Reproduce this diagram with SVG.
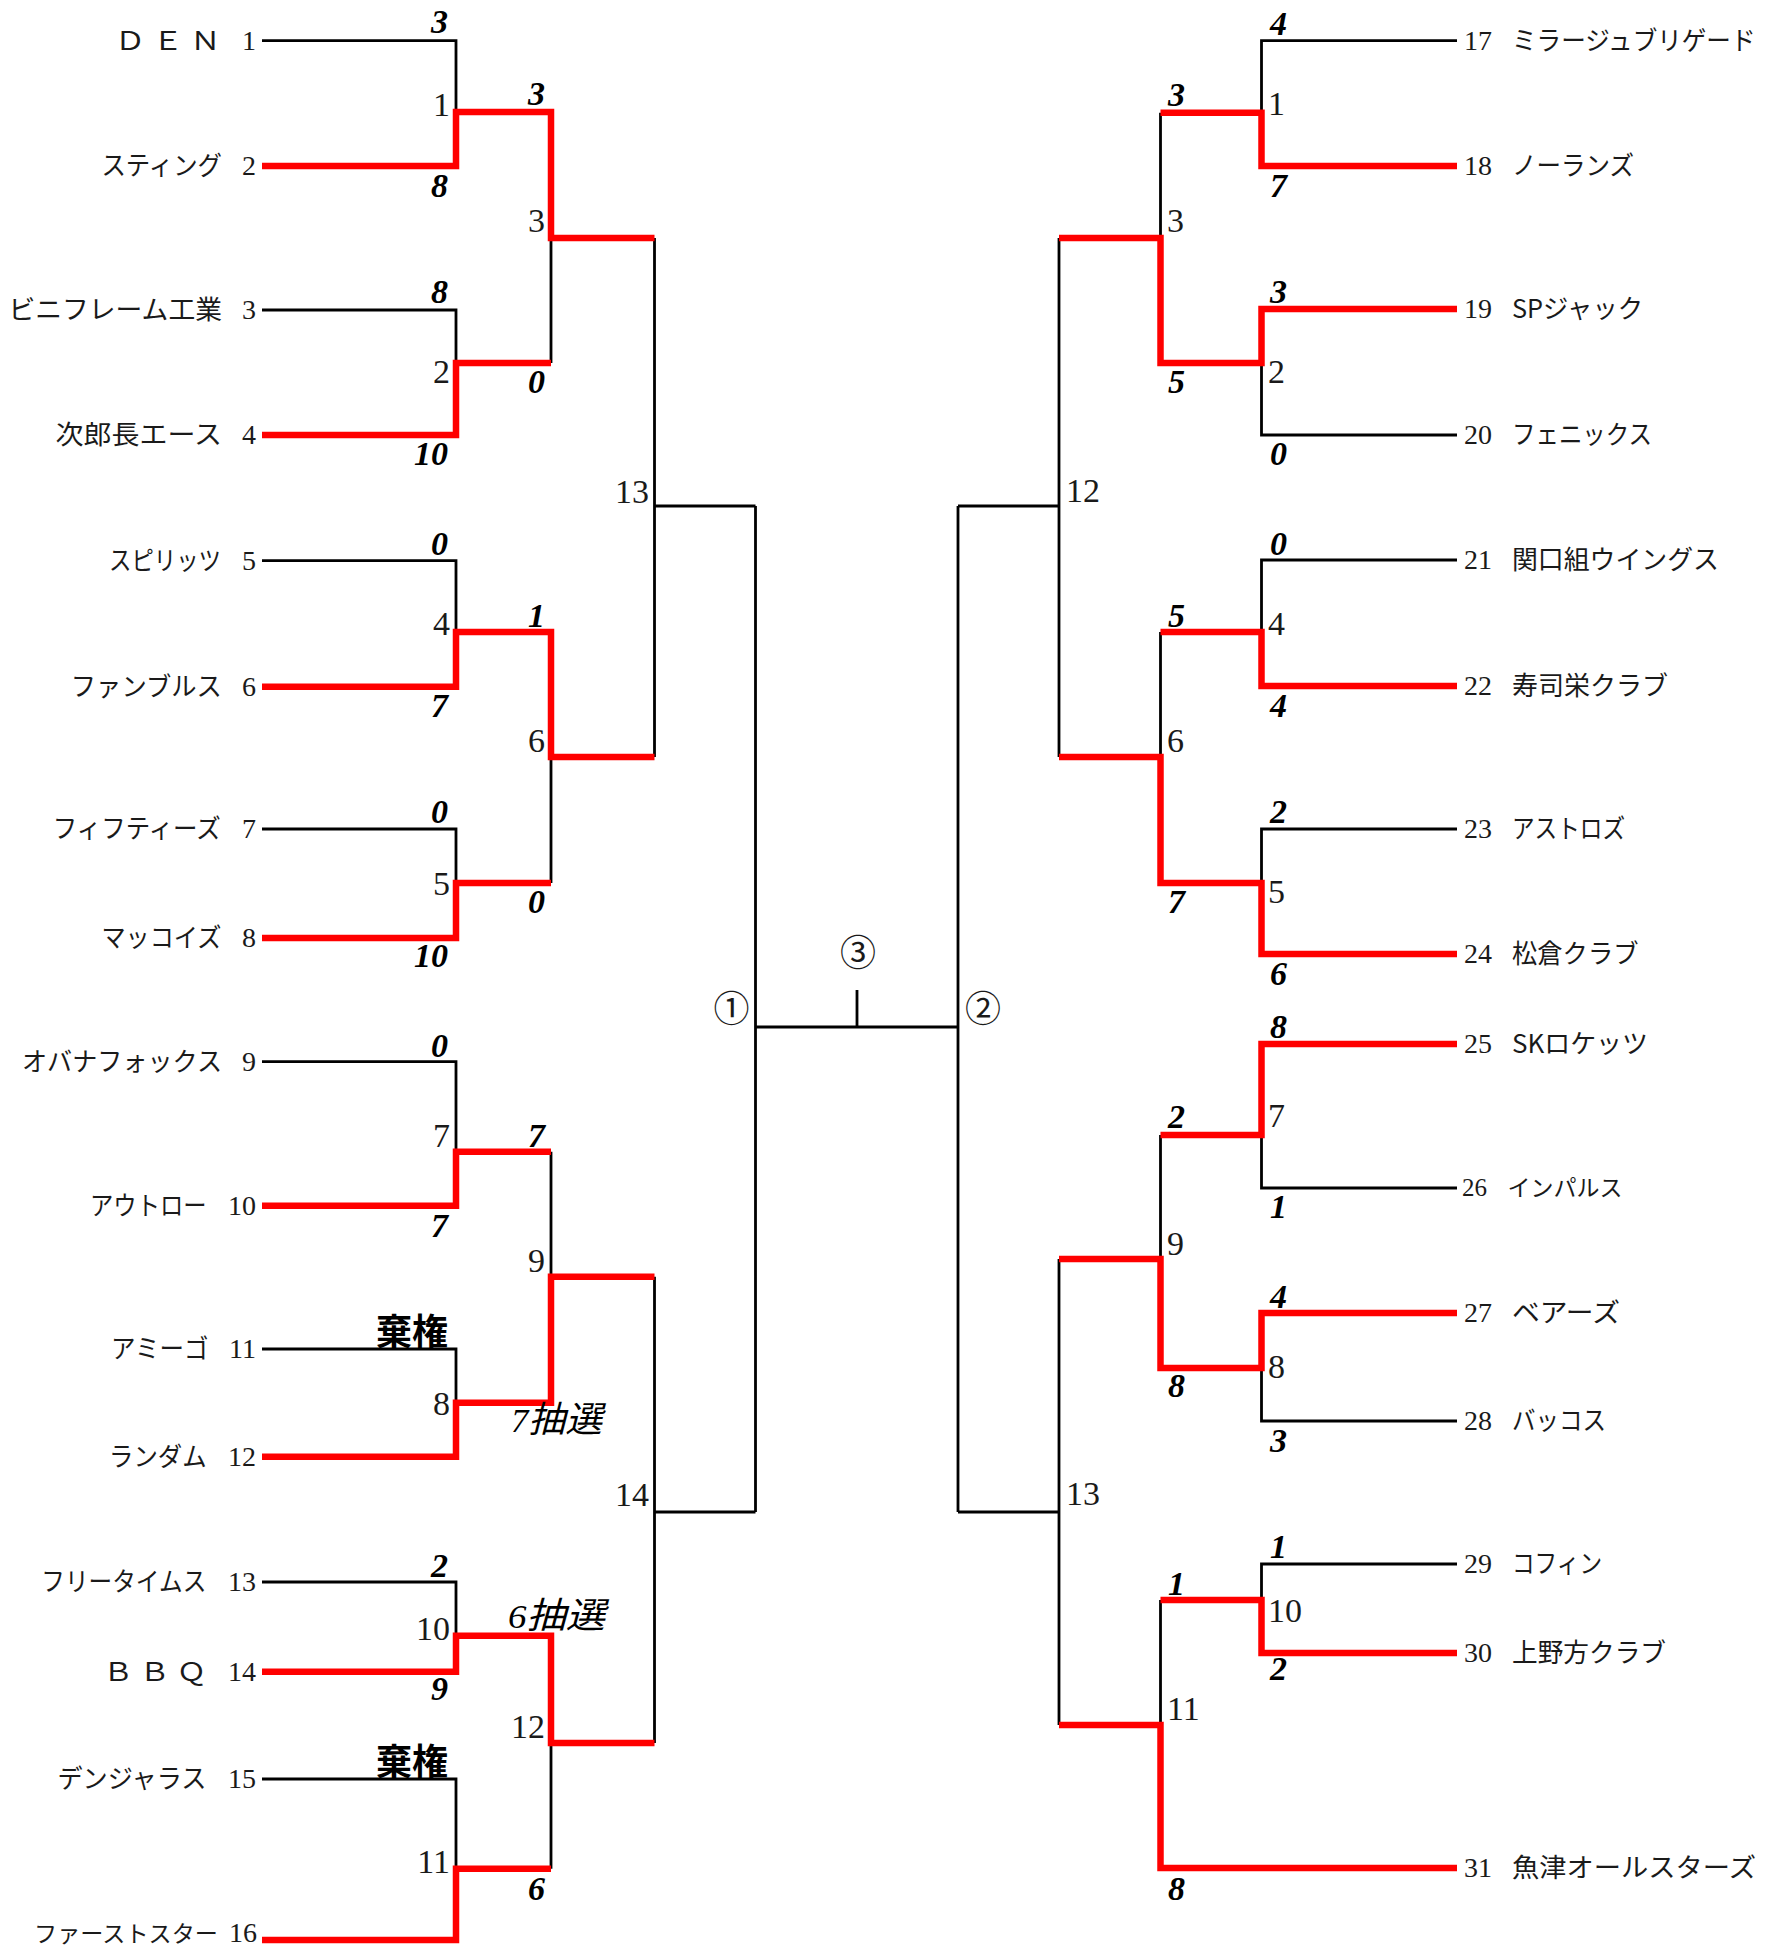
<svg xmlns="http://www.w3.org/2000/svg" width="1771" height="1948" viewBox="0 0 1771 1948">
<style>
.k{fill:none;stroke:#000;stroke-width:2.8}
.r{fill:none;stroke:#ff0000;stroke-width:6.5;stroke-linejoin:miter}
.nm{font-family:"Noto Sans CJK JP",sans-serif;font-size:26px;fill:#1a1a1a}
.no{font-family:"Liberation Serif","Noto Sans CJK JP",serif;font-size:28px;fill:#1a1a1a}
.mn{font-family:"Liberation Serif",serif;font-size:34px;fill:#1a1a1a}
.sc{font-family:"Liberation Serif","Noto Sans CJK JP",serif;font-size:34px;font-weight:bold;font-style:italic;fill:#000}
.lt{font-family:"Liberation Serif","Noto Sans CJK JP",serif;font-size:34px;font-style:italic;fill:#000}
.ls{font-family:"Noto Sans CJK JP",sans-serif;font-size:36px;font-style:italic;fill:#000}
.fk{font-family:"Noto Sans CJK JP",sans-serif;font-size:36px;font-weight:bold;fill:#000}
.cm{font-family:"Noto Sans CJK JP",sans-serif;font-size:36px;fill:#1a1a1a;text-anchor:middle}
.e{text-anchor:end}
</style>
<rect width="1771" height="1948" fill="#fff"/>
<g id="connectors">
<path class="k" d="M262,40.7H456V112M262,310H456V363M262,560.7H456V632M262,829H456V883M262,1061.7H456V1151.7M262,1349H456V1402.7M262,1582H456V1635.7M262,1779H456V1868.7"/>
<path class="k" d="M551,238V363M551,757V883M551,1151.7V1276.7M551,1743V1868.7"/>
<path class="k" d="M654.5,238V757M654.5,506H755.5M654.5,1276.7V1743M654.5,1512H755.5M755.5,506V1512M755.5,1027H958M857,990V1027M958,506V1512M958,506H1059M958,1512H1059"/>
<path class="k" d="M1457,40.7H1261.5V112.7M1457,435H1261.5V363M1457,560H1261.5V632M1457,829H1261.5V883M1457,1188H1261.5V1135M1457,1421H1261.5V1368M1457,1564H1261.5V1600"/>
<path class="k" d="M1160.5,112.7V238M1160.5,632V757M1160.5,1135V1259M1160.5,1600V1725M1059,238V757M1059,1259V1725"/>
<path class="r" d="M262,166H456V112H551V238H654.5"/>
<path class="r" d="M262,435H456V363H551"/>
<path class="r" d="M262,686.7H456V632H551V757H654.5"/>
<path class="r" d="M262,938H456V883H551"/>
<path class="r" d="M262,1205.7H456V1151.7H551"/>
<path class="r" d="M262,1456.7H456V1402.7H551V1276.7H654.5"/>
<path class="r" d="M262,1671.7H456V1635.7H551V1743H654.5"/>
<path class="r" d="M262,1940H456V1868.7H551"/>
<path class="r" d="M1457,166H1261.5V112.7H1160.5"/>
<path class="r" d="M1457,309H1261.5V363H1160.5V238H1059"/>
<path class="r" d="M1457,686H1261.5V632H1160.5"/>
<path class="r" d="M1457,954H1261.5V883H1160.5V757H1059"/>
<path class="r" d="M1457,1044H1261.5V1135H1160.5"/>
<path class="r" d="M1457,1313H1261.5V1368H1160.5V1259H1059"/>
<path class="r" d="M1457,1653H1261.5V1600H1160.5"/>
<path class="r" d="M1457,1868H1160.5V1725H1059"/>
</g>
<g id="team-1"><text class="nm" x="114.8" y="50" textLength="106" lengthAdjust="spacingAndGlyphs">Ｄ Ｅ Ｎ</text><text class="no e" x="256" y="50">1</text></g>
<g id="team-2"><text class="nm" x="101.4" y="175" textLength="120.6" lengthAdjust="spacingAndGlyphs">スティング</text><text class="no e" x="256" y="175">2</text></g>
<g id="team-3"><text class="nm" x="8.4" y="319" textLength="213.6" lengthAdjust="spacingAndGlyphs">ビニフレーム工業</text><text class="no e" x="256" y="319">3</text></g>
<g id="team-4"><text class="nm" x="55.5" y="444" textLength="166.5" lengthAdjust="spacingAndGlyphs">次郎長エース</text><text class="no e" x="256" y="444">4</text></g>
<g id="team-5"><text class="nm" x="109" y="570" textLength="112" lengthAdjust="spacingAndGlyphs">スピリッツ</text><text class="no e" x="256" y="570">5</text></g>
<g id="team-6"><text class="nm" x="70.8" y="696" textLength="151" lengthAdjust="spacingAndGlyphs">ファンブルス</text><text class="no e" x="256" y="696">6</text></g>
<g id="team-7"><text class="nm" x="52.8" y="838" textLength="168" lengthAdjust="spacingAndGlyphs">フィフティーズ</text><text class="no e" x="256" y="838">7</text></g>
<g id="team-8"><text class="nm" x="101.4" y="947" textLength="120" lengthAdjust="spacingAndGlyphs">マッコイズ</text><text class="no e" x="256" y="947">8</text></g>
<g id="team-9"><text class="nm" x="22" y="1071" textLength="200" lengthAdjust="spacingAndGlyphs">オバナフォックス</text><text class="no e" x="256" y="1071">9</text></g>
<g id="team-10"><text class="nm" x="90" y="1215" textLength="116.6" lengthAdjust="spacingAndGlyphs">アウトロー</text><text class="no e" x="256" y="1215">10</text></g>
<g id="team-11"><text class="nm" x="111" y="1358" textLength="97.5" lengthAdjust="spacingAndGlyphs">アミーゴ</text><text class="no e" x="256" y="1358">11</text></g>
<g id="team-12"><text class="nm" x="109" y="1466" textLength="97.6" lengthAdjust="spacingAndGlyphs">ランダム</text><text class="no e" x="256" y="1466">12</text></g>
<g id="team-13"><text class="nm" x="41.3" y="1591" textLength="165" lengthAdjust="spacingAndGlyphs">フリータイムス</text><text class="no e" x="256" y="1591">13</text></g>
<g id="team-14"><text class="nm" x="103.3" y="1681" textLength="103" lengthAdjust="spacingAndGlyphs">Ｂ Ｂ Ｑ</text><text class="no e" x="256" y="1681">14</text></g>
<g id="team-15"><text class="nm" x="57.4" y="1788" textLength="149" lengthAdjust="spacingAndGlyphs">デンジャラス</text><text class="no e" x="256" y="1788">15</text></g>
<g id="team-16"><text class="nm" x="34" y="1942" style="font-size:23px" textLength="184" lengthAdjust="spacingAndGlyphs">ファーストスター</text><text class="no e" x="257" y="1942">16</text></g>
<g id="team-17"><text class="no" x="1464" y="50">17</text><text class="nm" x="1512" y="50" textLength="243.5" lengthAdjust="spacingAndGlyphs">ミラージュブリゲード</text></g>
<g id="team-18"><text class="no" x="1464" y="175">18</text><text class="nm" x="1512" y="175" textLength="122" lengthAdjust="spacingAndGlyphs">ノーランズ</text></g>
<g id="team-19"><text class="no" x="1464" y="318">19</text><text class="nm" x="1512" y="318" textLength="131" lengthAdjust="spacingAndGlyphs">SPジャック</text></g>
<g id="team-20"><text class="no" x="1464" y="444">20</text><text class="nm" x="1512" y="444" textLength="140" lengthAdjust="spacingAndGlyphs">フェニックス</text></g>
<g id="team-21"><text class="no" x="1464" y="569">21</text><text class="nm" x="1512" y="569" textLength="207" lengthAdjust="spacingAndGlyphs">関口組ウイングス</text></g>
<g id="team-22"><text class="no" x="1464" y="695">22</text><text class="nm" x="1512" y="695" textLength="156" lengthAdjust="spacingAndGlyphs">寿司栄クラブ</text></g>
<g id="team-23"><text class="no" x="1464" y="838">23</text><text class="nm" x="1512" y="838" textLength="113" lengthAdjust="spacingAndGlyphs">アストロズ</text></g>
<g id="team-24"><text class="no" x="1464" y="963">24</text><text class="nm" x="1512" y="963" textLength="126.5" lengthAdjust="spacingAndGlyphs">松倉クラブ</text></g>
<g id="team-25"><text class="no" x="1464" y="1053">25</text><text class="nm" x="1512" y="1053" textLength="136" lengthAdjust="spacingAndGlyphs">SKロケッツ</text></g>
<g id="team-26"><text class="no" x="1462" y="1196" style="font-size:25px">26</text><text class="nm" x="1507.5" y="1196" style="font-size:23px" textLength="115" lengthAdjust="spacingAndGlyphs">インパルス</text></g>
<g id="team-27"><text class="no" x="1464" y="1322">27</text><text class="nm" x="1512" y="1322" textLength="108" lengthAdjust="spacingAndGlyphs">ベアーズ</text></g>
<g id="team-28"><text class="no" x="1464" y="1430">28</text><text class="nm" x="1512" y="1430" textLength="94" lengthAdjust="spacingAndGlyphs">バッコス</text></g>
<g id="team-29"><text class="no" x="1464" y="1573">29</text><text class="nm" x="1512" y="1573" textLength="90" lengthAdjust="spacingAndGlyphs">コフィン</text></g>
<g id="team-30"><text class="no" x="1464" y="1662">30</text><text class="nm" x="1512" y="1662" textLength="154" lengthAdjust="spacingAndGlyphs">上野方クラブ</text></g>
<g id="team-31"><text class="no" x="1464" y="1877">31</text><text class="nm" x="1512" y="1877" textLength="244" lengthAdjust="spacingAndGlyphs">魚津オールスターズ</text></g>
<g id="match-numbers">
<text class="mn e" x="450" y="116">1</text><text class="mn e" x="450" y="383">2</text><text class="mn e" x="450" y="635">4</text><text class="mn e" x="450" y="895">5</text><text class="mn e" x="450" y="1147">7</text><text class="mn e" x="450" y="1415">8</text><text class="mn e" x="450" y="1640">10</text><text class="mn e" x="450" y="1873">11</text>
<text class="mn e" x="545" y="232">3</text><text class="mn e" x="545" y="752">6</text><text class="mn e" x="545" y="1272">9</text><text class="mn e" x="545" y="1738">12</text>
<text class="mn e" x="649" y="503">13</text><text class="mn e" x="649" y="1506">14</text>
<text class="mn" x="1268" y="115">1</text><text class="mn" x="1268" y="383">2</text><text class="mn" x="1268" y="635">4</text><text class="mn" x="1268" y="903">5</text><text class="mn" x="1268" y="1127">7</text><text class="mn" x="1268" y="1378">8</text><text class="mn" x="1268" y="1622">10</text>
<text class="mn" x="1167" y="232">3</text><text class="mn" x="1167" y="752">6</text><text class="mn" x="1167" y="1255">9</text><text class="mn" x="1167" y="1720">11</text>
<text class="mn" x="1066" y="502">12</text><text class="mn" x="1066" y="1505">13</text>
</g>
<g id="final-labels">
<text class="cm" x="731.5" y="1022">①</text><text class="cm" x="983" y="1022">②</text><text class="cm" x="858" y="966">③</text>
</g>
<g id="scores">
<text class="sc e" x="448" y="33">3</text><text class="sc e" x="448" y="197">8</text><text class="sc e" x="448" y="303">8</text><text class="sc e" x="448" y="465">10</text>
<text class="sc e" x="448" y="555">0</text><text class="sc e" x="448" y="717">7</text><text class="sc e" x="448" y="823">0</text><text class="sc e" x="448" y="967">10</text>
<text class="sc e" x="448" y="1057">0</text><text class="sc e" x="448" y="1237">7</text><text class="fk e" x="448" y="1345">棄権</text>
<text class="sc e" x="448" y="1577">2</text><text class="sc e" x="448" y="1700">9</text><text class="fk e" x="448" y="1775">棄権</text>
<text class="sc e" x="545" y="105">3</text><text class="sc e" x="545" y="393">0</text><text class="sc e" x="545" y="627">1</text><text class="sc e" x="545" y="913">0</text>
<text class="sc e" x="545" y="1147">7</text><text x="511" y="1432" textLength="91" lengthAdjust="spacingAndGlyphs"><tspan class="lt">7</tspan><tspan class="ls">抽選</tspan></text>
<text x="508" y="1628" textLength="97" lengthAdjust="spacingAndGlyphs"><tspan class="lt">6</tspan><tspan class="ls">抽選</tspan></text><text class="sc e" x="545" y="1900">6</text>
<text class="sc" x="1270" y="35">4</text><text class="sc" x="1270" y="197">7</text><text class="sc" x="1270" y="303">3</text><text class="sc" x="1270" y="465">0</text>
<text class="sc" x="1270" y="555">0</text><text class="sc" x="1270" y="717">4</text><text class="sc" x="1270" y="823">2</text><text class="sc" x="1270" y="985">6</text>
<text class="sc" x="1270" y="1038">8</text><text class="sc" x="1270" y="1218">1</text><text class="sc" x="1270" y="1308">4</text><text class="sc" x="1270" y="1452">3</text>
<text class="sc" x="1270" y="1558">1</text><text class="sc" x="1270" y="1680">2</text>
<text class="sc" x="1168" y="106">3</text><text class="sc" x="1168" y="393">5</text><text class="sc" x="1168" y="627">5</text><text class="sc" x="1168" y="913">7</text>
<text class="sc" x="1168" y="1128">2</text><text class="sc" x="1168" y="1397">8</text><text class="sc" x="1168" y="1595">1</text><text class="sc" x="1168" y="1900">8</text>
</g>
</svg>
